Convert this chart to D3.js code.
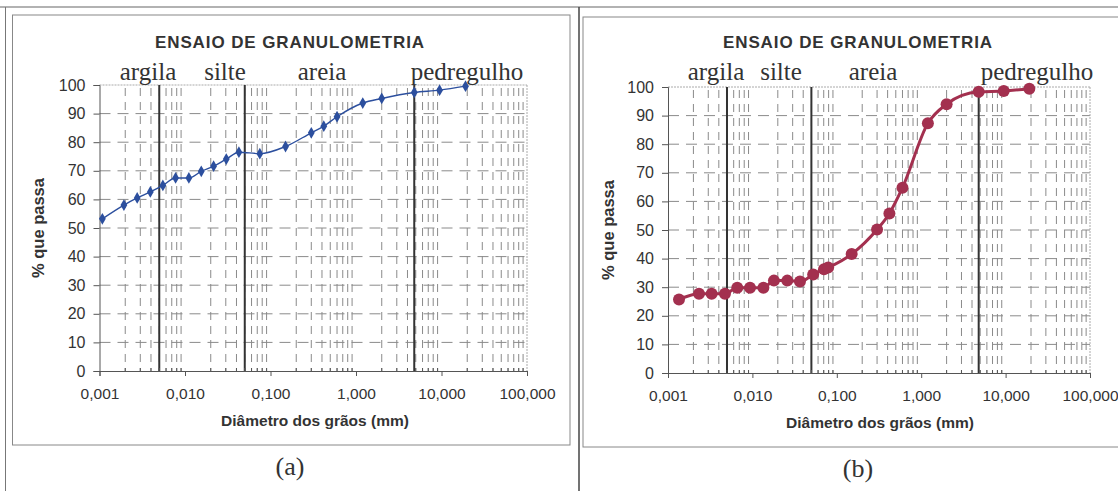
<!DOCTYPE html>
<html lang="pt">
<head>
  <meta charset="utf-8">
  <title>Ensaio de granulometria</title>
  <script src="https://cdn.jsdelivr.net/npm/d3@7"></script>
  <style>
    body { margin: 0; background: #fff; }
    svg { display: block; }
  </style>
</head>
<body>
<script>
// curva (a)
var diamA = [0.00108, 0.00193, 0.00276, 0.00393, 0.00551, 0.00776, 0.0111, 0.0155, 0.0216, 0.0304, 0.0427,
             0.075, 0.15, 0.3, 0.42, 0.6, 1.2, 2.0, 4.8, 9.5, 19.1];
var passaA = [53.2, 58.0, 60.5, 62.6, 64.9, 67.5, 67.5, 69.8, 71.6, 74.1, 76.5,
              76.0, 78.5, 83.3, 85.6, 88.9, 93.7, 95.3, 97.4, 98.2, 99.6];

// curva (b)
var diamB = [0.00135, 0.00233, 0.00329, 0.00473, 0.00662, 0.00937, 0.0135, 0.018, 0.0259, 0.0366, 0.0525,
             0.0705, 0.079, 0.15, 0.3, 0.42, 0.6, 1.2, 2.0, 4.8, 9.5, 19.1];
var passaB = [25.7, 27.7, 27.7, 27.7, 29.8, 29.8, 29.8, 32.3, 32.3, 32.0, 34.4,
              36.3, 36.9, 41.6, 50.2, 55.8, 64.8, 87.3, 94.0, 98.3, 98.6, 99.4];

var zonas = ["argila", "silte", "areia", "pedregulho"];
var limites = [0.005, 0.05, 4.8];
var xTicks = [0.001, 0.01, 0.1, 1, 10, 100];
var xTickLabels = ["0,001", "0,010", "0,100", "1,000", "10,000", "100,000"];
var yTicks = [0, 10, 20, 30, 40, 50, 60, 70, 80, 90, 100];

var W = 1118, H = 491;
var sans = "Liberation Sans, Arial, sans-serif";
var serif = "Liberation Serif, Times New Roman, serif";
var svg = d3.select("body").append("svg").attr("width", W).attr("height", H);

// moldura geral
svg.append("line").attr("x1", 0).attr("x2", W).attr("y1", 7).attr("y2", 7)
  .attr("stroke", "#666").attr("stroke-width", 1.2);
svg.append("line").attr("x1", 5.5).attr("x2", 5.5).attr("y1", 7).attr("y2", H)
  .attr("stroke", "#777").attr("stroke-width", 1);
svg.append("line").attr("x1", 579).attr("x2", 579).attr("y1", 7).attr("y2", H)
  .attr("stroke", "#444").attr("stroke-width", 1.5);

function grafico(cfg) {
  var g = svg.append("g");

  g.append("rect").attr("x", cfg.box[0]).attr("y", cfg.box[1])
    .attr("width", cfg.box[2] - cfg.box[0]).attr("height", cfg.box[3] - cfg.box[1])
    .attr("fill", "none").attr("stroke", "#888").attr("stroke-width", 1);

  var x = d3.scaleLog().domain([0.001, 100]).range([cfg.x0, cfg.x1]);
  var y = d3.scaleLinear().domain([0, 100]).range([cfg.y1, cfg.y0]);

  // grade vertical (menores)
  var menores = [];
  [0.001, 0.01, 0.1, 1, 10].forEach(function (d) {
    for (var m = 2; m <= 9; m++) menores.push(d * m);
  });
  g.selectAll(".vg").data(menores).enter().append("line")
    .attr("x1", d => x(d)).attr("x2", d => x(d))
    .attr("y1", cfg.y0 + 3).attr("y2", cfg.y1)
    .attr("stroke", "#8a8a8a").attr("stroke-width", 1)
    .attr("stroke-dasharray", "8,6");

  // grade horizontal
  g.selectAll(".hg").data(yTicks.slice(1, -1)).enter().append("line")
    .attr("x1", cfg.x0).attr("x2", cfg.x1)
    .attr("y1", d => y(d)).attr("y2", d => y(d))
    .attr("stroke", "#8a8a8a").attr("stroke-width", 1)
    .attr("stroke-dasharray", "11,7");

  // bordas superior e direita
  g.append("line").attr("x1", cfg.x0).attr("x2", cfg.x1).attr("y1", cfg.y0).attr("y2", cfg.y0)
    .attr("stroke", "#aaa").attr("stroke-dasharray", "2,1");
  g.append("line").attr("x1", cfg.x1).attr("x2", cfg.x1).attr("y1", cfg.y0).attr("y2", cfg.y1)
    .attr("stroke", "#aaa").attr("stroke-dasharray", "2,1");

  // limites entre frações
  g.selectAll(".lim").data(limites).enter().append("line")
    .attr("x1", d => x(d)).attr("x2", d => x(d))
    .attr("y1", cfg.y0).attr("y2", cfg.y1)
    .attr("stroke", "#333").attr("stroke-width", 2);

  // eixo y
  var yAxis = d3.axisLeft(y).tickValues(yTicks).tickSize(6).tickPadding(8);
  var ya = g.append("g").attr("transform", "translate(" + cfg.x0 + ",0)").call(yAxis);
  ya.select(".domain").attr("stroke", "#555");
  ya.selectAll(".tick line").attr("stroke", "#555");
  ya.selectAll("text").attr("font-family", sans).attr("font-size", 16).attr("fill", "#333");

  // eixo x
  var xAxis = d3.axisBottom(x).tickValues(xTicks).tickSize(5).tickPadding(12)
    .tickFormat((d, i) => xTickLabels[i]);
  var xa = g.append("g").attr("transform", "translate(0," + cfg.y1 + ")").call(xAxis);
  xa.select(".domain").attr("stroke", "#555");
  xa.selectAll(".tick line").attr("stroke", "#555");
  xa.selectAll("text").attr("font-family", sans).attr("font-size", 15.5).attr("fill", "#333");
  xa.selectAll(".mt").data(menores).enter().append("line")
    .attr("x1", d => x(d)).attr("x2", d => x(d))
    .attr("y1", 0).attr("y2", -3).attr("stroke", "#555");

  // curva
  var pts = cfg.diam.map((d, i) => [d, cfg.passa[i]]);
  var linha = d3.line().x(d => x(d[0])).y(d => y(d[1])).curve(d3.curveMonotoneX);
  g.append("path").datum(pts).attr("d", linha)
    .attr("fill", "none").attr("stroke", cfg.cor).attr("stroke-width", cfg.larg);
  if (cfg.marcador === "diamond") {
    g.selectAll(".pt").data(pts).enter().append("path")
      .attr("d", d3.symbol().type(d3.symbolDiamond).size(40))
      .attr("transform", d => "translate(" + x(d[0]) + "," + y(d[1]) + ")")
      .attr("fill", cfg.cor);
  } else {
    g.selectAll(".pt").data(pts).enter().append("circle")
      .attr("cx", d => x(d[0])).attr("cy", d => y(d[1])).attr("r", 6)
      .attr("fill", cfg.cor);
  }

  // textos
  g.append("text").attr("x", cfg.tituloX).attr("y", 48).attr("text-anchor", "middle")
    .attr("font-family", sans).attr("font-weight", "bold")
    .attr("font-size", 17).attr("fill", "#333").attr("letter-spacing", "0.9")
    .text("ENSAIO DE GRANULOMETRIA");
  g.selectAll(".zona").data(zonas).enter().append("text")
    .attr("x", (d, i) => cfg.zonaX[i]).attr("y", 80).attr("text-anchor", "middle")
    .attr("font-family", serif).attr("font-size", 25)
    .attr("fill", "#333").text(d => d);
  g.append("text").attr("transform", "translate(" + cfg.yLabX + "," + ((cfg.y0 + cfg.y1) / 2) + ") rotate(-90)")
    .attr("text-anchor", "middle").attr("font-family", sans)
    .attr("font-weight", "bold").attr("font-size", 16.5).attr("fill", "#333")
    .text("% que passa");
  g.append("text").attr("x", cfg.xLabX).attr("y", cfg.y1 + 55).attr("text-anchor", "middle")
    .attr("font-family", sans).attr("font-weight", "bold")
    .attr("font-size", 15.5).attr("fill", "#333").text("Diâmetro dos grãos (mm)");
  g.append("text").attr("x", cfg.tituloX).attr("y", cfg.box[3] + 30).attr("text-anchor", "middle")
    .attr("font-family", serif).attr("font-size", 26)
    .attr("fill", "#333").text(cfg.letra);
}

grafico({
  box: [12.5, 15, 570, 445], x0: 99.5, x1: 527, y0: 85, y1: 371,
  diam: diamA, passa: passaA, cor: "#2c4f9e", larg: 1.4, marcador: "diamond",
  tituloX: 290, zonaX: [148, 225, 322, 467], yLabX: 44, xLabX: 315, letra: "(a)"
});
grafico({
  box: [583, 17, 1130, 447], x0: 668, x1: 1090, y0: 87, y1: 373,
  diam: diamB, passa: passaB, cor: "#a3304f", larg: 3, marcador: "circle",
  tituloX: 858, zonaX: [716, 781, 873, 1037], yLabX: 614, xLabX: 880, letra: "(b)"
});
</script>
</body>
</html>
